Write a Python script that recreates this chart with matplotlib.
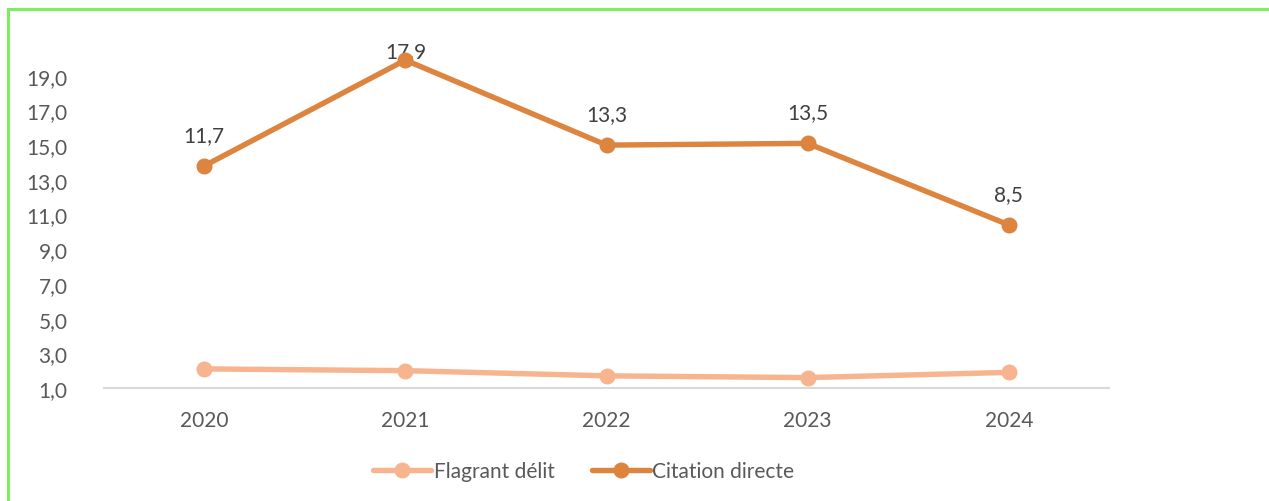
import matplotlib
matplotlib.use('Agg')
import matplotlib.pyplot as plt
from matplotlib.patches import Rectangle

years = ['2020', '2021', '2022', '2023', '2024']
flagrant = [2.1, 2.0, 1.7, 1.6, 1.9]
citation = [11.7, 17.9, 13.3, 13.5, 8.5]
yticks = [1, 3, 5, 7, 9, 11, 13, 15, 17, 19]

c_flag = '#F7B48F'
c_cit = '#DD843F'
txt = '#595959'

plt.rcParams['font.family'] = ['Lato', 'DejaVu Sans']

fig = plt.figure(figsize=(12.69, 5.02), dpi=100)
ax = fig.add_axes([0.0816, 0.2251, 0.7927, 0.6912])

x = list(range(len(years)))
ymin, ymax = 1, 21
# stacked line chart: second series sits on top of the first
stacked = [f + c for f, c in zip(flagrant, citation)]

ax.plot(x, flagrant, color=c_flag, lw=3.9, marker='o', ms=10.5,
        solid_capstyle='round', label='Flagrant délit', zorder=3)
ax.plot(x, stacked, color=c_cit, lw=3.9, marker='o', ms=10.5,
        solid_capstyle='round', label='Citation directe', zorder=3)

# labels sit above the point but are kept inside the plot area
for xi, yi, v in zip(x, stacked, citation):
  ly = min(yi + 1.8, ymax - 0.6)
  ax.text(xi, ly, f'{v:.1f}'.replace('.', ','), ha='center', va='center',
          fontsize=15, color='#404040', zorder=2)

ax.set_xlim(-0.5, len(years) - 0.5)
ax.set_ylim(ymin, ymax)
ax.set_xticks(x)
ax.set_xticklabels(years)
ax.set_yticks(yticks)
ax.set_yticklabels([f'{t:.1f}'.replace('.', ',') for t in yticks])
ax.tick_params(length=0, labelsize=15, labelcolor=txt)
ax.tick_params(axis='x', pad=16)
ax.tick_params(axis='y', pad=26)

for s in ['top', 'right', 'left']:
  ax.spines[s].set_visible(False)
ax.spines['bottom'].set_color('#D9D9D9')
ax.spines['bottom'].set_linewidth(1.5)

leg = fig.legend(loc='center', bbox_to_anchor=(0.46, 0.06), ncol=2,
                 frameon=False, fontsize=15, handlelength=2.8,
                 handletextpad=0.1, columnspacing=1.8)
for t in leg.get_texts():
  t.set_color(txt)

# green frame around the chart (cut off at right and bottom)
fig.patches.append(Rectangle((0.0063, -0.1), 1.2, 1.08, transform=fig.transFigure,
                             fill=False, edgecolor='#7CF05A', lw=2.2,
                             clip_on=False))

fig.savefig('out.png', dpi=100)
